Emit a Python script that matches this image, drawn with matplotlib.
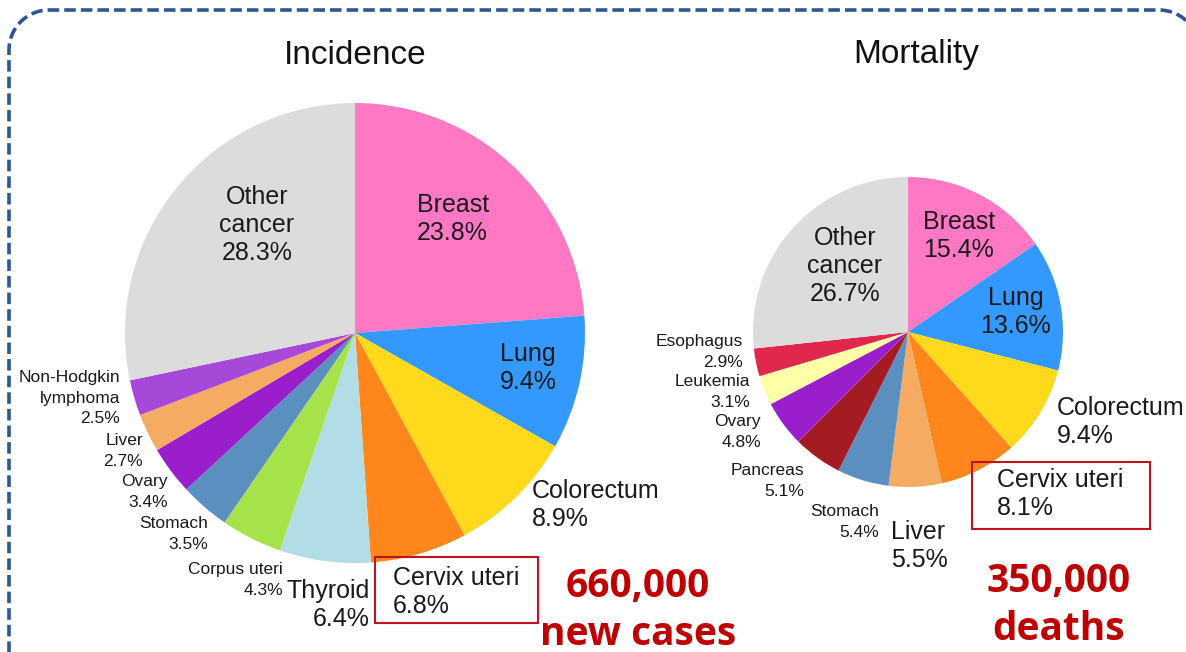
"""
Female cancer incidence and mortality pie charts (Incidence vs Mortality).
"""

import numpy as np
import matplotlib
matplotlib.use("Agg")
import matplotlib.pyplot as plt
from matplotlib.patches import Rectangle

W, H = 1186, 652

# ---- data -----------------------------------------------------------------
inc_labels = ["Breast", "Lung", "Colorectum", "Cervix uteri", "Thyroid",
              "Corpus uteri", "Stomach", "Ovary", "Liver",
              "Non-Hodgkin\nlymphoma", "Other\ncancer"]
inc_values = [23.8, 9.4, 8.9, 6.8, 6.4, 4.3, 3.5, 3.4, 2.7, 2.5, 28.3]
inc_colors = ["#ff78c4", "#3399ff", "#ffd91c", "#ff861a", "#b3dde6",
              "#a6e34a", "#5a8fc0", "#9a1ecb", "#f5ac62", "#a648d8", "#dcdcdc"]

mort_labels = ["Breast", "Lung", "Colorectum", "Cervix uteri", "Liver",
               "Stomach", "Pancreas", "Ovary", "Leukemia", "Esophagus",
               "Other\ncancer"]
mort_values = [15.4, 13.6, 9.4, 8.1, 5.5, 5.4, 5.1, 4.8, 3.1, 2.9, 26.7]
mort_colors = ["#ff78c4", "#3399ff", "#ffd91c", "#ff861a", "#f5ac62",
               "#5a8fc0", "#a51b22", "#9a1ecb", "#ffffa8", "#e0284e", "#dcdcdc"]

inc_total = ["660,000", "new cases"]
mort_total = ["350,000", "deaths"]

# label layout in pixel coords (x anchor, y centre, align, big?)
inc_layout = [(417, 219, "left", True), (500, 368, "left", True),
              (532, 505, "left", True), (393, 592, "left", True),
              (370, 605, "right", True), (283, 580, "right", False),
              (208, 534, "right", False), (168, 492, "right", False),
              (143, 451, "right", False), (120, 398, "right", False),
              (257, 225, "center", True)]
mort_layout = [(923, 236, "left", True), (1016, 312, "center", True),
               (1057, 422, "left", True), (997, 494, "left", True),
               (891, 546, "left", True), (879, 522, "right", False),
               (804, 481, "right", False), (761, 432, "right", False),
               (750, 392, "right", False), (743, 352, "right", False),
               (845, 266, "center", True)]

plt.rcParams["font.family"] = ["Liberation Sans", "DejaVu Sans"]
TXT = "#1a1a1a"
RED = "#c00000"


def py(y):
    """Convert a top-down pixel row to axes y."""
    return H - np.asarray(y)


def draw_pie(ax, values, labels, colors, layout, centre, radius):
    ax.pie(values, colors=colors, startangle=90, counterclock=False,
           center=(centre[0], py(centre[1])), radius=radius,
           wedgeprops=dict(linewidth=0))
    for lab, val, (x, y, ha, big) in zip(labels, values, layout):
        ax.text(x, py(y), f"{lab}\n{val}%", ha=ha, va="center",
                multialignment=ha, fontsize=18 if big else 12.5,
                linespacing=1.22 if big else 1.42, color=TXT)


def draw_total(ax, lines, x, baselines):
    for s, b in zip(lines, baselines):
        ax.text(x, py(b), s, ha="center", va="baseline", fontsize=28,
                fontweight="bold", family="Open Sans", color=RED)


fig = plt.figure(figsize=(W / 100, H / 100), dpi=100)
ax = fig.add_axes([0, 0, 1, 1])

draw_pie(ax, inc_values, inc_labels, inc_colors, inc_layout, (355, 333), 230)
draw_pie(ax, mort_values, mort_labels, mort_colors, mort_layout, (908, 332), 155)

ax.text(355, py(55), "Incidence", ha="center", va="center",
        fontsize=24, color="#111111")
ax.text(916, py(55), "Mortality", ha="center", va="center",
        fontsize=24, color="#111111")

# highlight boxes around cervix uteri
ax.add_patch(Rectangle((375, py(623)), 163, 66, fill=False,
                       ec="#c0141c", lw=1.5))
ax.add_patch(Rectangle((972, py(529)), 178, 67, fill=False,
                       ec="#c0141c", lw=1.5))

# totals
draw_total(ax, inc_total, 638, (597, 645))
draw_total(ax, mort_total, 1059, (592, 640))

# dashed rounded frame: left side, top-left corner, top, top-right corner
# (the right side runs off the picture)
rc = 40
a1 = np.linspace(np.pi, np.pi / 2, 30)
a2 = np.linspace(np.pi / 2, -0.2, 30)
fx = np.concatenate([[9], 9 + rc + rc * np.cos(a1), 1159 + rc * np.cos(a2)])
fy = np.concatenate([[700], 10 + rc - rc * np.sin(a1), 10 + rc - rc * np.sin(a2)])
ax.plot(fx, py(fy), color="#2f5597", lw=2.6, linestyle=(0, (3.2, 1.4)))

ax.set_xlim(0, W)
ax.set_ylim(0, H)
ax.set_aspect("equal")
ax.axis("off")

fig.savefig("out.png", dpi=100)
